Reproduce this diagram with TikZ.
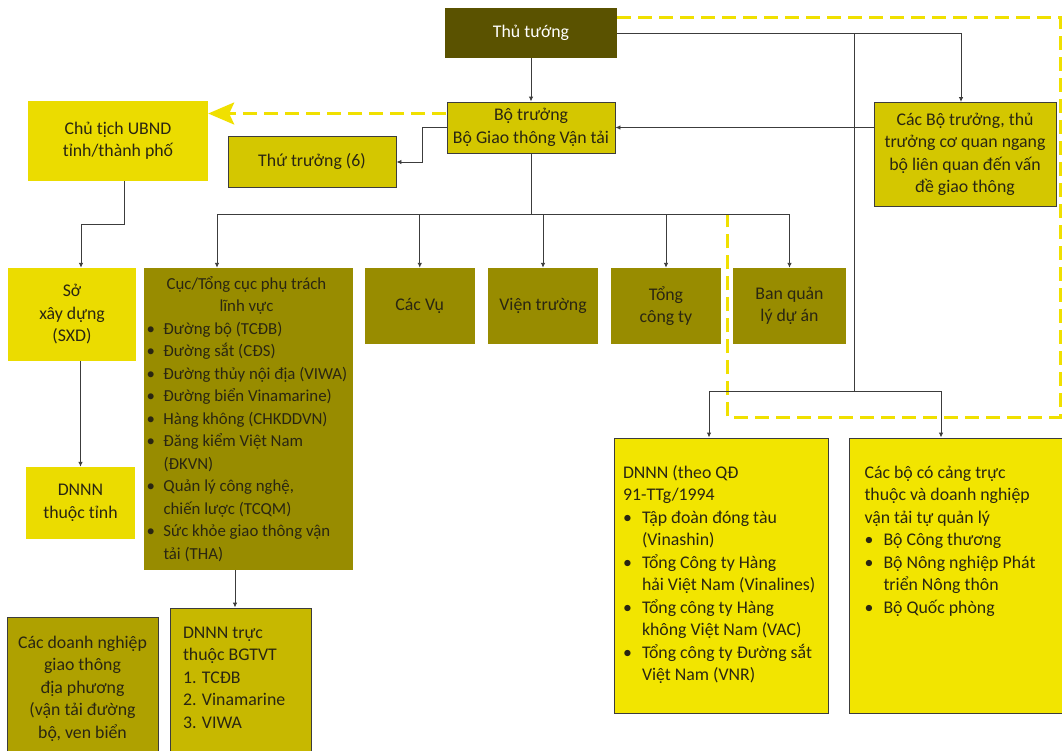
\documentclass[tikz,border=0pt]{standalone}
\usepackage{fontspec}
\setmainfont{Carlito}
\usetikzlibrary{arrows.meta}
\definecolor{ttfill}{HTML}{5A5200}
\definecolor{btfill}{HTML}{D4C700}
\definecolor{yfill}{HTML}{EBDC00}
\definecolor{ofill}{HTML}{988C00}
\definecolor{lfill}{HTML}{F2E500}
\definecolor{dnfill}{HTML}{AFA100}
\definecolor{dtfill}{HTML}{C7B800}
\definecolor{lncol}{HTML}{3C3C3C}
\definecolor{txt}{HTML}{2A2612}
\definecolor{ydash}{HTML}{F0E000}
\newcommand\fs{\fontsize{17.8}{22.5}\selectfont}
\newcommand\fsc{\fontsize{16.8}{22.5}\selectfont}
\newcommand\bl{\makebox[17pt][l]{\textbullet}}
\newcommand\ind{\hspace*{17pt}}
\newcommand\bli{\makebox[19pt][l]{\textbullet}}
\newcommand\indi{\hspace*{19pt}}
\begin{document}
\begin{tikzpicture}[x=1pt,y=-1pt,
  box/.style={inner sep=0pt, text=txt, font=\fs, align=center},
  bbox/.style={box, draw=lncol, line width=0.9pt},
  conn/.style={draw=lncol, line width=0.9pt},
  arr/.style={conn, -{Latex[length=5pt,width=4.5pt]}},
  yline/.style={draw=ydash, line width=3pt, dash pattern=on 14pt off 7pt}
]
\useasboundingbox (0,0) rectangle (1062,750);
\clip (0,0) rectangle (1062,750);

% top
\node[box, fill=ttfill, text=white, minimum width=172, minimum height=50] (tt) at (531,33) {Thủ tướng};
\node[bbox, fill=btfill, minimum width=168, minimum height=51] (bt) at (531,127.5) {Bộ trưởng\\Bộ Giao thông Vận tải};
\node[box, fill=yfill, minimum width=180, minimum height=80] (cth) at (118,141) {Chủ tịch UBND\\tỉnh/thành phố};
\node[bbox, fill=btfill, minimum width=168, minimum height=51] (tht) at (312,162) {Thứ trưởng (6)};
\node[bbox, fill=btfill, minimum width=182, minimum height=104] (cbt) at (965,154.5) {Các Bộ trưởng, thủ\\trưởng cơ quan ngang\\bộ liên quan đến vấn\\đề giao thông};

% second level
\node[box, fill=yfill, minimum width=128, minimum height=93] (so) at (72,314.5) {Sở\\xây dựng\\(SXD)};
\node[box, fill=yfill, minimum width=109, minimum height=72] (dt) at (80.5,503) {DNNN\\thuộc tỉnh};
\node[box, fill=ofill, minimum width=209, minimum height=302] (cuc) at (248.5,419)
 {\parbox[c]{204pt}{\fsc\raggedright
  \makebox[200pt][c]{Cục/Tổng cục phụ trách}\\
  \makebox[200pt][c]{lĩnh vực}\\
  \bl Đường bộ (TCĐB)\\
  \bl Đường sắt (CĐS)\\
  \bl\mbox{Đường thủy nội địa (VIWA)}\\
  \bl Đường biển Vinamarine)\\
  \bl Hàng không (CHKDDVN)\\
  \bl Đăng kiểm Việt Nam\\
  \ind(ĐKVN)\\
  \bl Quản lý công nghệ,\\
  \ind chiến lược (TCQM)\\
  \bl Sức khỏe giao thông vận\\
  \ind tải (THA)}};
\node[box, fill=ofill, minimum width=110.5, minimum height=76] (vu) at (419.75,306) {Các Vụ};
\node[box, fill=ofill, minimum width=110, minimum height=76] (vien) at (543,306) {Viện trường};
\node[box, fill=ofill, minimum width=110, minimum height=76] (tong) at (666,306) {Tổng\\công ty};
\node[box, fill=ofill, minimum width=113, minimum height=76] (ban) at (789.5,306) {Ban quản\\lý dự án};

% lower right
\node[bbox, fill=lfill, minimum width=214, minimum height=275] (dq) at (721,575.5)
 {\parbox[c][275pt][t]{196pt}{\fs\raggedright
  \rule{0pt}{40pt}DNNN (theo QĐ\\
  91-TTg/1994\\
  \bli Tập đoàn đóng tàu\\
  \indi(Vinashin)\\
  \bli Tổng Công ty Hàng\\
  \indi hải Việt Nam (Vinalines)\\
  \bli Tổng công ty Hàng\\
  \indi không Việt Nam (VAC)\\
  \bli Tổng công ty Đường sắt\\
  \indi Việt Nam (VNR)}};
\node[bbox, fill=lfill, minimum width=221, minimum height=275] (cb) at (959.5,575.5)
 {\parbox[c][275pt][t]{190pt}{\fs\raggedright
  \rule{0pt}{40pt}Các bộ có cảng trực\\
  thuộc và doanh nghiệp\\
  vận tải tự quản lý\\
  \bli Bộ Công thương\\
  \bli Bộ Nông nghiệp Phát\\
  \indi triển Nông thôn\\
  \bli Bộ Quốc phòng}};

% lower left
\node[bbox, fill=dnfill, minimum width=151, minimum height=143] (cdn) at (82.5,688.5)
 {\parbox[c][143pt][t]{147pt}{\fs\centering
  \rule{0pt}{31pt}Các doanh nghiệp\\
  giao thông\\
  địa phương\\
  (vận tải đường\\
  bộ, ven biển}};
\node[bbox, fill=dtfill, minimum width=141, minimum height=152] (dtt) at (240.5,684)
 {\parbox[c][152pt][t]{115pt}{\fs\raggedright
  \rule{0pt}{30pt}DNNN trực\\
  thuộc BGTVT\\
  \makebox[19pt][l]{1.}TCĐB\\
  \makebox[19pt][l]{2.}Vinamarine\\
  \makebox[19pt][l]{3.}VIWA}};

% yellow dashed connectors
\coordinate (ya) at (1060,17);
\coordinate (yb) at (1060,417);
\coordinate (yc) at (727.5,417);
\coordinate (yd) at (727.5,214);
\draw[yline] (tt.east |- ya) -- (ya) -- (yb) -- (yc) -- (yd);
\coordinate (yl) at (446,113.5);
\draw[yline, -{Stealth[length=26pt,width=22pt,inset=5pt,fill=ydash]}] (yl) -- (cth.east |- yl);

% black connectors
\draw[arr] (tt.south) -- (bt.north);
\draw[arr] (tt.east) -| ([xshift=-4pt]cbt.north);
\coordinate (tap) at (854,0 |- tt.east);
\coordinate (jn) at (854,391);
\coordinate (jl) at (709,391);
\coordinate (jr) at (941,391);
\draw[conn] (tap) -- (jn);
\draw[conn] (jl) -- (jr);
\draw[arr] (jl) -- (jl |- dq.north);
\draw[arr] (jr) -- (jr |- cb.north);
\draw[arr] (cbt.west |- bt.east) -- (bt.east);
\draw[arr] (bt.west) -- ++(-24,0) |- (tht.east);

\coordinate (br) at (531,214);
\coordinate (brL) at (217,214);
\coordinate (brR) at (789.5,214);
\draw[conn] (bt.south) -- (br);
\draw[conn] (brL) -- (brR);
\draw[arr] (brL) -- (brL |- cuc.north);
\draw[arr] (vu.north |- br) -- (vu.north);
\draw[arr] (vien.north |- br) -- (vien.north);
\draw[arr] (tong.north |- br) -- (tong.north);
\draw[arr] (ban.north |- br) -- (ban.north);

\draw[arr] ([xshift=6pt]cth.south) -- ++(0,43) -| ([xshift=9pt]so.north);
\draw[arr] (so.south -| dt.north) -- (dt.north);
\draw[arr] ([xshift=-13.5pt]cuc.south) -- ([xshift=-13.5pt]cuc.south |- dtt.north);
\end{tikzpicture}
\end{document}
